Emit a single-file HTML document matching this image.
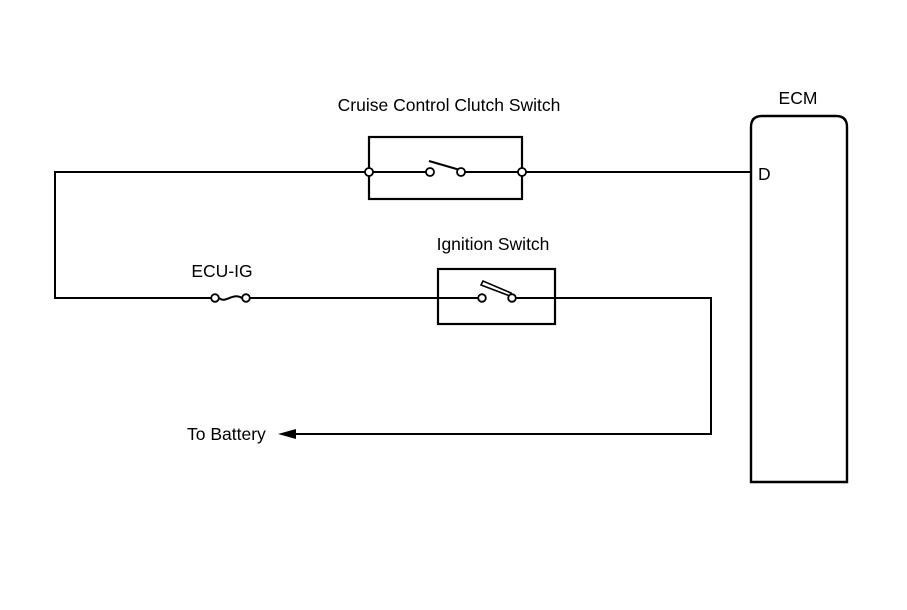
<!DOCTYPE html>
<html><head><meta charset="utf-8"><style>
html,body{margin:0;padding:0;background:#fff;}
svg{display:block;}
text{font-family:"Liberation Sans",Arial,sans-serif;font-size:17.5px;fill:#000;}
</style></head><body>
<svg width="907" height="610" viewBox="0 0 907 610" xmlns="http://www.w3.org/2000/svg">
<g stroke="#000" fill="none">
 <rect x="369" y="137" width="153" height="62" stroke-width="2.2"/>
 <line x1="55" y1="172" x2="365" y2="172" stroke-width="2"/>
 <line x1="373" y1="172" x2="426" y2="172" stroke-width="2"/>
 <line x1="465" y1="172" x2="518" y2="172" stroke-width="2"/>
 <line x1="526" y1="172" x2="751" y2="172" stroke-width="2"/>
 <line x1="429" y1="161" x2="460" y2="170" stroke-width="2.2"/>
 <line x1="55" y1="171" x2="55" y2="299" stroke-width="2"/>
 <line x1="55" y1="298" x2="211" y2="298" stroke-width="2"/>
 <path d="M219 298 C226 304 232 292 242 298" stroke-width="2"/>
 <line x1="250" y1="298" x2="478" y2="298" stroke-width="2"/>
 <line x1="516" y1="298" x2="711" y2="298" stroke-width="2"/>
 <rect x="438" y="269" width="117" height="55" stroke-width="2.2"/>
 <path d="M481 285 L510 296 L511 293 L483 281 Z" stroke-width="1.6"/>
 <line x1="711" y1="297" x2="711" y2="435" stroke-width="2"/>
 <line x1="711" y1="434" x2="292" y2="434" stroke-width="2"/>
 <path d="M751 482 L751 127 Q751 116 762 116 L836 116 Q847 116 847 127 L847 482 Z" stroke-width="2.4"/>
 <g fill="#fff" stroke-width="1.8">
  <circle cx="369" cy="172" r="4"/>
  <circle cx="430" cy="172" r="4"/>
  <circle cx="461" cy="172" r="4"/>
  <circle cx="522" cy="172" r="4"/>
  <circle cx="215" cy="298" r="3.8"/>
  <circle cx="246" cy="298" r="3.8"/>
  <circle cx="482" cy="298" r="3.8"/>
  <circle cx="512" cy="298" r="3.8"/>
 </g>
</g>
<path d="M278 434 L296 429 L296 439 Z" fill="#000"/>
<text x="449" y="111" text-anchor="middle">Cruise Control Clutch Switch</text>
<text x="493" y="250" text-anchor="middle">Ignition Switch</text>
<text x="222" y="277" text-anchor="middle">ECU-IG</text>
<text x="187" y="440">To Battery</text>
<text x="798" y="104" text-anchor="middle">ECM</text>
<text x="758" y="180">D</text>
</svg>
</body></html>
